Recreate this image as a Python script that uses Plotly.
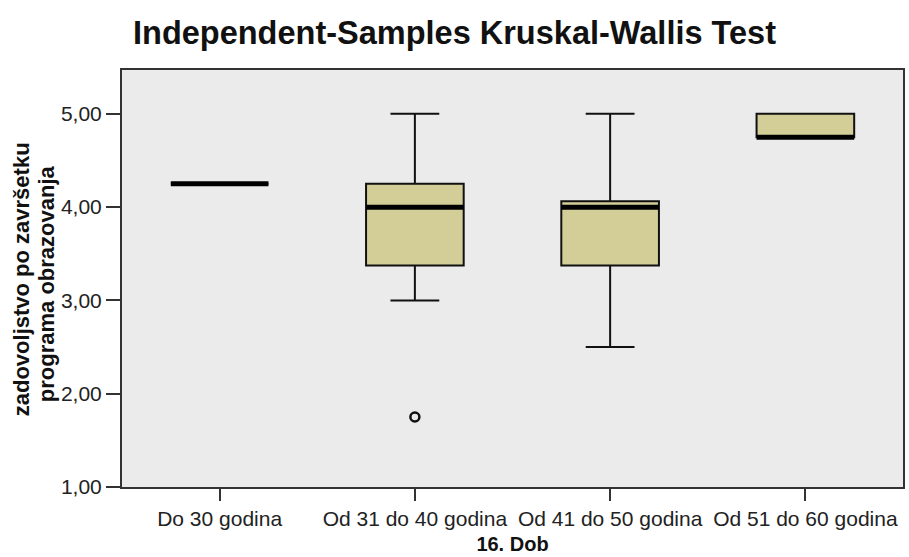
import plotly.graph_objects as go

categories = ["Do 30 godina", "Od 31 do 40 godina", "Od 41 do 50 godina", "Od 51 do 60 godina"]
q1 = [4.25, 3.375, 3.375, 4.75]
medians = [4.25, 4.0, 4.0, 4.75]
q3 = [4.25, 4.25, 4.0625, 5.0]
lower_whisker = [4.25, 3.0, 2.5, 4.75]
upper_whisker = [4.25, 5.0, 5.0, 5.0]
outlier_cat = ["Od 31 do 40 godina"]
outlier_val = [1.75]
y_ticks = [1, 2, 3, 4, 5]
y_title_lines = ["zadovoljstvo po završetku", "programa obrazovanja"]

pos = list(range(len(categories)))
half = 0.25

W, H = 909, 557
ML, MR, MT, MB = 122, 4, 70, 70
PW, PH = W - ML - MR, H - MT - MB

fig = go.Figure()
fig.add_trace(go.Box(
    x=pos, q1=q1, median=medians, q3=q3,
    lowerfence=lower_whisker, upperfence=upper_whisker,
    width=2 * half, whiskerwidth=0.5,
    fillcolor="#D3CE98", line=dict(color="#111111", width=2),
    boxpoints=False, showlegend=False, hoverinfo="skip",
))

mx, my = [], []
for p, m in zip(pos, medians):
    mx += [p - half, p + half, None]
    my += [m, m, None]
fig.add_trace(go.Scatter(x=mx, y=my, mode="lines",
                         line=dict(color="#000000", width=5),
                         showlegend=False, hoverinfo="skip"))

fig.add_trace(go.Scatter(
    x=[categories.index(c) for c in outlier_cat], y=outlier_val, mode="markers",
    marker=dict(symbol="circle-open", size=9, color="#111111", line=dict(width=2.5)),
    showlegend=False, hoverinfo="skip"))

# y-axis title as two rotated lines (tight line spacing like the reference)
for (cx, cy), txt in zip([(21, 279), (46, 284)], y_title_lines):
    fig.add_annotation(
        text="<b>" + txt + "</b>", textangle=-90, showarrow=False,
        xref="paper", yref="paper",
        x=(cx - ML) / PW, y=(H - MB - cy) / PH,
        xanchor="center", yanchor="middle",
        font=dict(size=22, color="#111111"),
    )

fig.update_layout(
    width=W, height=H,
    margin=dict(l=ML, r=MR, t=MT, b=MB),
    paper_bgcolor="white", plot_bgcolor="#EBEBEB",
    separators=",.",
    font=dict(family="Liberation Sans, Arial, sans-serif", color="#111111"),
    title=dict(text="<b>Independent-Samples Kruskal-Wallis Test</b>",
               x=0.5, xanchor="center", y=1 - 33 / 557, yanchor="middle",
               font=dict(size=32.5, color="#111111")),
)
fig.update_xaxes(
    range=[-0.5, 3.5], tickvals=pos, ticktext=categories,
    ticks="outside", ticklen=12, tickwidth=1.5, tickcolor="#333333",
    tickfont=dict(size=21, color="#222222"),
    showline=True, mirror=True, linecolor="#333333", linewidth=2,
    showgrid=False, zeroline=False,
    title=dict(text="<b>16. Dob</b>", font=dict(size=20, color="#111111"), standoff=8),
)
fig.update_yaxes(
    range=[1, 5.47], tickvals=y_ticks, tickformat=".2f",
    ticks="outside", ticklen=14, tickwidth=1.5, tickcolor="#333333",
    tickfont=dict(size=21, color="#222222"),
    showline=True, mirror=True, linecolor="#333333", linewidth=2,
    showgrid=False, zeroline=False,
)

fig.write_html("out.html", config={"displayModeBar": False},
               post_script="document.body.style.margin='0';")
